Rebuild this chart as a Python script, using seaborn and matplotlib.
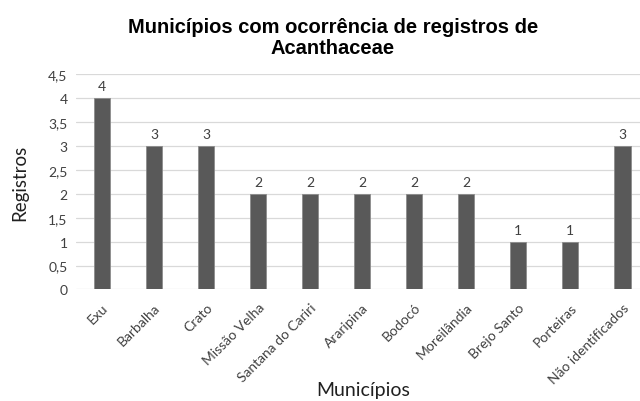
import matplotlib
matplotlib.use("Agg")
import matplotlib.pyplot as plt
import seaborn as sns
import pandas as pd

municipios = ["Exu", "Barbalha", "Crato", "Missão Velha", "Santana do Cariri",
              "Araripina", "Bodocó", "Moreilândia", "Brejo Santo", "Porteiras",
              "Não identificados"]
registros = [4, 3, 3, 2, 2, 2, 2, 2, 1, 1, 3]
yticks = [0, 0.5, 1, 1.5, 2, 2.5, 3, 3.5, 4, 4.5]
ytick_labels = ["0", "0,5", "1", "1,5", "2", "2,5", "3", "3,5", "4", "4,5"]

sns.set_theme(style="white")
plt.rcParams['font.family'] = ['Lato', 'DejaVu Sans']

df = pd.DataFrame({"Municípios": municipios, "Registros": registros})

fig = plt.figure(figsize=(6.4, 4.02), dpi=100)
ax = fig.add_axes([0.11875, 0.2774, 0.88125, 0.536])

sns.barplot(data=df, x="Municípios", y="Registros", color="#595959",
            width=0.315, edgecolor="#8c8c8c", linewidth=0.6, saturation=1, ax=ax, zorder=3)

for i, v in enumerate(registros):
    ax.text(i, v + 0.12, str(v), ha="center", va="bottom", fontsize=10, color="#404040")

ax.set_ylim(0, 4.5)
ax.set_xlim(-0.5, 10.34)
ax.set_yticks(yticks)
ax.set_yticklabels(ytick_labels, fontsize=10, color="#404040")
ax.yaxis.grid(True, color="#d9d9d9", linewidth=0.9, zorder=0)
ax.set_axisbelow(True)
for s in ax.spines.values():
    s.set_visible(False)
ax.tick_params(axis="both", length=0, pad=6)
ax.set_xticks(range(len(municipios)))
ax.set_xticklabels(municipios, rotation=45, ha="right", rotation_mode="anchor",
                   fontsize=10, color="#404040")
ax.tick_params(axis="x", pad=8)

ax.set_xlabel("Municípios", fontsize=14, color="#202020")
ax.xaxis.set_label_coords(0.509, -0.425)
ax.set_ylabel("Registros", fontsize=13.5, color="#202020")
ax.yaxis.set_label_coords(-0.085, 0.5)

fig.text(0.52, 0.905, "Municípios com ocorrência de registros de\nAcanthaceae",
         ha="center", va="center", fontsize=14.5, fontweight="bold",
         family=["Liberation Sans", "DejaVu Sans"], linespacing=1.1, color="black")

fig.savefig("out.png", dpi=100)
